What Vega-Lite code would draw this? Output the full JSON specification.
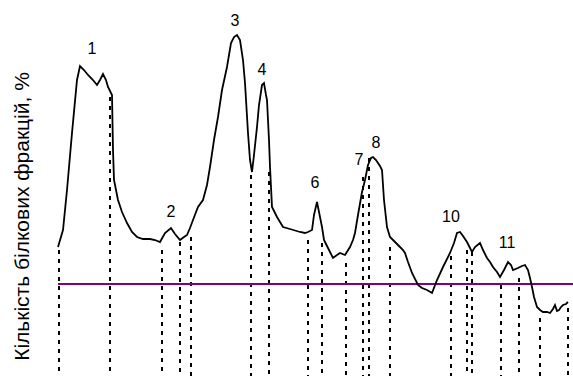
{
  "$schema": "https://vega.github.io/schema/vega-lite/v6.json",
  "width": 573,
  "height": 376,
  "autosize": "none",
  "padding": 0,
  "background": "white",
  "config": {"view": {"stroke": null}},
  "datasets": {
    "curve": [
      {"x":58,"y":129},{"x":63,"y":146},{"x":67,"y":186},{"x":72,"y":243},{"x":77,"y":296},{"x":80,"y":310},{"x":84,"y":306},{"x":88,"y":301},{"x":93,"y":296},{"x":97,"y":291},{"x":100,"y":296},{"x":103,"y":302},{"x":106,"y":296},{"x":108,"y":289},{"x":112,"y":281},{"x":113,"y":226},{"x":114,"y":196},{"x":118,"y":176},{"x":122,"y":164},{"x":127,"y":153},{"x":132,"y":144},{"x":137,"y":139},{"x":143,"y":137},{"x":150,"y":137},{"x":155,"y":136},{"x":160,"y":134},{"x":165,"y":143},{"x":171,"y":148},{"x":175,"y":142},{"x":180,"y":136},{"x":184,"y":139},{"x":187,"y":141},{"x":190,"y":148},{"x":193,"y":156},{"x":198,"y":169},{"x":203,"y":176},{"x":207,"y":191},{"x":210,"y":209},{"x":214,"y":236},{"x":218,"y":259},{"x":222,"y":286},{"x":227,"y":309},{"x":231,"y":333},{"x":234,"y":339},{"x":237,"y":341},{"x":240,"y":336},{"x":243,"y":316},{"x":245,"y":293},{"x":248,"y":243},{"x":250,"y":216},{"x":252,"y":204},{"x":254,"y":221},{"x":257,"y":249},{"x":259,"y":271},{"x":262,"y":291},{"x":264,"y":293},{"x":266,"y":281},{"x":267,"y":276},{"x":269,"y":236},{"x":270,"y":209},{"x":272,"y":169},{"x":277,"y":159},{"x":283,"y":149},{"x":290,"y":147},{"x":300,"y":144},{"x":305,"y":143},{"x":308,"y":144},{"x":312,"y":146},{"x":314,"y":161},{"x":317,"y":174},{"x":319,"y":164},{"x":322,"y":149},{"x":324,"y":136},{"x":328,"y":128},{"x":333,"y":118},{"x":337,"y":121},{"x":340,"y":123},{"x":345,"y":121},{"x":350,"y":129},{"x":353,"y":136},{"x":355,"y":143},{"x":358,"y":161},{"x":362,"y":184},{"x":365,"y":196},{"x":368,"y":211},{"x":371,"y":218},{"x":373,"y":219},{"x":376,"y":216},{"x":378,"y":213},{"x":380,"y":210},{"x":382,"y":206},{"x":384,"y":176},{"x":387,"y":149},{"x":390,"y":139},{"x":395,"y":134},{"x":400,"y":129},{"x":403,"y":126},{"x":405,"y":123},{"x":408,"y":114},{"x":412,"y":103},{"x":418,"y":91},{"x":422,"y":88},{"x":427,"y":86},{"x":432,"y":83},{"x":437,"y":96},{"x":443,"y":109},{"x":450,"y":123},{"x":454,"y":133},{"x":457,"y":143},{"x":460,"y":144},{"x":463,"y":140},{"x":467,"y":134},{"x":470,"y":128},{"x":472,"y":124},{"x":475,"y":129},{"x":480,"y":133},{"x":483,"y":126},{"x":487,"y":118},{"x":490,"y":114},{"x":493,"y":109},{"x":497,"y":104},{"x":500,"y":99},{"x":504,"y":106},{"x":508,"y":114},{"x":511,"y":111},{"x":513,"y":106},{"x":518,"y":108},{"x":522,"y":110},{"x":525,"y":111},{"x":528,"y":106},{"x":530,"y":98},{"x":532,"y":89},{"x":534,"y":79},{"x":537,"y":69},{"x":540,"y":66},{"x":543,"y":64},{"x":547,"y":64},{"x":550,"y":63},{"x":553,"y":67},{"x":555,"y":71},{"x":557,"y":65},{"x":559,"y":66},{"x":561,"y":69},{"x":563,"y":71},{"x":566,"y":72},{"x":568,"y":74}
    ],
    "cuts": [
      {"x":59,"top":126,"bottom":0},{"x":110,"top":279,"bottom":0},{"x":162,"top":126,"bottom":0},{"x":180,"top":134,"bottom":0},{"x":191,"top":139,"bottom":0},{"x":251,"top":201,"bottom":0},{"x":269,"top":204,"bottom":0},{"x":308,"top":136,"bottom":0},{"x":322,"top":133,"bottom":0},{"x":346,"top":113,"bottom":0},{"x":363,"top":199,"bottom":0},{"x":369,"top":218,"bottom":0},{"x":390,"top":129,"bottom":0},{"x":451,"top":120,"bottom":0},{"x":467,"top":126,"bottom":0},{"x":472,"top":124,"bottom":0},{"x":501,"top":91,"bottom":0},{"x":519,"top":98,"bottom":0},{"x":540,"top":58,"bottom":0},{"x":568,"top":68,"bottom":0}
    ],
    "labels": [
      {"x":92,"y":327,"t":"1"},{"x":171,"y":164,"t":"2"},{"x":235,"y":355,"t":"3"},{"x":262,"y":306,"t":"4"},{"x":315,"y":193,"t":"6"},{"x":359,"y":216,"t":"7"},{"x":376,"y":233,"t":"8"},{"x":451,"y":159,"t":"10"},{"x":507,"y":133,"t":"11"}
    ],
    "base": [{"x":58,"x2":573,"y":92}]
  },
  "layer": [
    {
      "data": {"name": "cuts"},
      "mark": {"type": "rule", "color": "black", "strokeWidth": 2, "strokeDash": [4, 5]},
      "encoding": {
        "x": {"field": "x", "type": "quantitative", "scale": {"domain": [0, 573], "nice": false, "zero": false}, "axis": null},
        "y": {"field": "top", "type": "quantitative", "scale": {"domain": [0, 376], "nice": false, "zero": false},
              "axis": {"title": "Кількість білкових фракцій, %", "labels": false, "ticks": false, "domain": false, "grid": false,
                       "titleFont": "Liberation Sans", "titleFontSize": 21, "titleFontWeight": "normal", "titleColor": "black",
                       "titleAngle": -90, "titleX": 28, "titleY": 216, "titleAlign": "center", "titleBaseline": "alphabetic"}},
        "y2": {"field": "bottom"}
      }
    },
    {
      "data": {"name": "base"},
      "mark": {"type": "rule", "color": "#800080", "strokeWidth": 2},
      "encoding": {
        "x": {"field": "x", "type": "quantitative"},
        "x2": {"field": "x2"},
        "y": {"field": "y", "type": "quantitative"}
      }
    },
    {
      "data": {"name": "curve"},
      "mark": {"type": "line", "color": "black", "strokeWidth": 1.8, "interpolate": "linear"},
      "encoding": {
        "x": {"field": "x", "type": "quantitative"},
        "y": {"field": "y", "type": "quantitative"}
      }
    },
    {
      "data": {"name": "labels"},
      "mark": {"type": "text", "font": "Liberation Sans Narrow, Liberation Sans", "fontSize": 16, "fill": "black", "align": "center", "baseline": "middle"},
      "encoding": {
        "x": {"field": "x", "type": "quantitative"},
        "y": {"field": "y", "type": "quantitative"},
        "text": {"field": "t"}
      }
    }
  ]
}
